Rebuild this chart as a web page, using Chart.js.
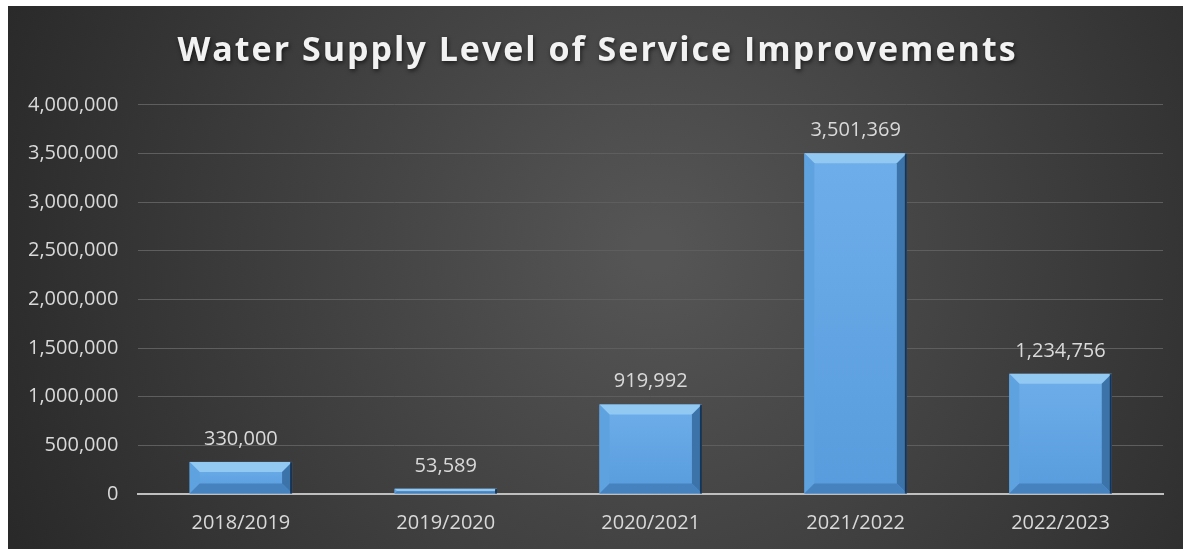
<!DOCTYPE html>
<html>
<head>
  <meta charset="UTF-8">
  <title>Water Supply Level of Service Improvements</title>
  <script src="https://cdn.jsdelivr.net/npm/chart.js"></script>
  <style>
    body {
      margin: 0;
      background: #ffffff;
    }
    #wrap {
      position: absolute;
      left: 8px;
      top: 6px;
      width: 1175px;
      height: 543px;
    }
  </style>
</head>
<body>
  <div id="wrap"><canvas id="supplyChart"></canvas></div>

  <script>
    const years = ['2018/2019', '2019/2020', '2020/2021', '2021/2022', '2022/2023'];
    const improvements = [330000, 53589, 919992, 3501369, 1234756];
    const yTicks = [0, 500000, 1000000, 1500000, 2000000, 2500000, 3000000, 3500000, 4000000];

    const fontFamily = '"Open Sans", sans-serif';
    const fmt = v => v.toLocaleString('en-US');

    // dark radial backdrop
    const backdrop = {
      id: 'backdrop',
      beforeDraw(chart) {
        const { ctx, width, height } = chart;
        const g = ctx.createRadialGradient(width * 0.55, height * 0.45, 20, width * 0.55, height * 0.45, width * 0.6);
        g.addColorStop(0, '#555555');
        g.addColorStop(1, '#292929');
        ctx.save();
        ctx.fillStyle = g;
        ctx.fillRect(0, 0, width, height);
        ctx.restore();
      },
      beforeLayout(chart) {
        // give the title a soft shadow and wider letters
        const tb = chart.titleBlock;
        if (tb && !tb._patched) {
          const orig = tb.draw;
          tb.draw = function () {
            const c = this.ctx;
            c.save();
            c.translate(12, -2);
            c.shadowColor = 'rgba(0,0,0,0.6)';
            c.shadowOffsetX = 1;
            c.shadowOffsetY = 2;
            c.shadowBlur = 4;
            c.letterSpacing = '2px';
            orig.apply(this, arguments);
            c.restore();
          };
          tb._patched = true;
        }
      }
    };

    // bevelled bars + value labels
    const bevel = {
      id: 'bevel',
      afterDatasetsDraw(chart) {
        const { ctx } = chart;
        const meta = chart.getDatasetMeta(0);
        meta.data.forEach((bar, i) => {
          const left = bar.x - bar.width / 2;
          const right = bar.x + bar.width / 2;
          const top = bar.y;
          const bottom = bar.base;
          const h = bottom - top;
          const b = Math.min(10, h / 2);

          ctx.save();
          // face
          const face = ctx.createLinearGradient(0, top, 0, bottom);
          face.addColorStop(0, '#6eaeea');
          face.addColorStop(1, '#589cdd');
          ctx.fillStyle = face;
          ctx.fillRect(left, top, right - left, h);

          const poly = (pts, color) => {
            ctx.beginPath();
            ctx.moveTo(pts[0][0], pts[0][1]);
            pts.slice(1).forEach(p => ctx.lineTo(p[0], p[1]));
            ctx.closePath();
            ctx.fillStyle = color;
            ctx.fill();
          };
          // top
          poly([[left, top], [right, top], [right - b, top + b], [left + b, top + b]], '#92c9f3');
          // left
          poly([[left, top], [left + b, top + b], [left + b, bottom - b], [left, bottom]], '#5fa2e0');
          // right
          poly([[right, top], [right - b, top + b], [right - b, bottom - b], [right, bottom]], '#3c74aa');
          // bottom
          poly([[left, bottom], [left + b, bottom - b], [right - b, bottom - b], [right, bottom]], '#4682bd');
          // dark edge on the right
          ctx.fillStyle = 'rgba(10,25,45,0.7)';
          ctx.fillRect(right - 2, top, 2, h);

          // label
          ctx.fillStyle = '#d9d9d9';
          ctx.font = '20px ' + fontFamily;
          ctx.textAlign = 'center';
          ctx.textBaseline = 'alphabetic';
          ctx.fillText(fmt(improvements[i]), bar.x, top - 17);
          ctx.restore();
        });
      }
    };

    new Chart(document.getElementById('supplyChart'), {
      type: 'bar',
      data: {
        labels: years,
        datasets: [{
          label: 'Improvements',
          data: improvements,
          backgroundColor: 'rgba(0,0,0,0)',
          barPercentage: 0.5,
          categoryPercentage: 1.0
        }]
      },
      options: {
        responsive: true,
        maintainAspectRatio: false,
        animation: false,
        layout: {
          padding: { left: 0, right: 20, top: 0, bottom: 5 }
        },
        plugins: {
          legend: { display: false },
          tooltip: { enabled: false },
          title: {
            display: true,
            text: 'Water Supply Level of Service Improvements',
            color: '#f2f2f2',
            font: { family: fontFamily, size: 34, weight: 'bold' },
            padding: { top: 27, bottom: 31 }
          }
        },
        scales: {
          x: {
            grid: { display: false },
            border: { display: true, color: '#bfbfbf', width: 2 },
            ticks: {
              color: '#d9d9d9',
              font: { family: fontFamily, size: 20 },
              padding: 9
            }
          },
          y: {
            min: 0,
            max: 4000000,
            afterBuildTicks(axis) {
              axis.ticks = yTicks.map(v => ({ value: v }));
            },
            grid: { color: '#5e5e5e', lineWidth: 1, drawTicks: false },
            border: { display: false },
            ticks: {
              color: '#d9d9d9',
              font: { family: fontFamily, size: 20 },
              padding: 20,
              callback: v => fmt(v)
            }
          }
        }
      },
      plugins: [backdrop, bevel]
    });
  </script>
</body>
</html>
